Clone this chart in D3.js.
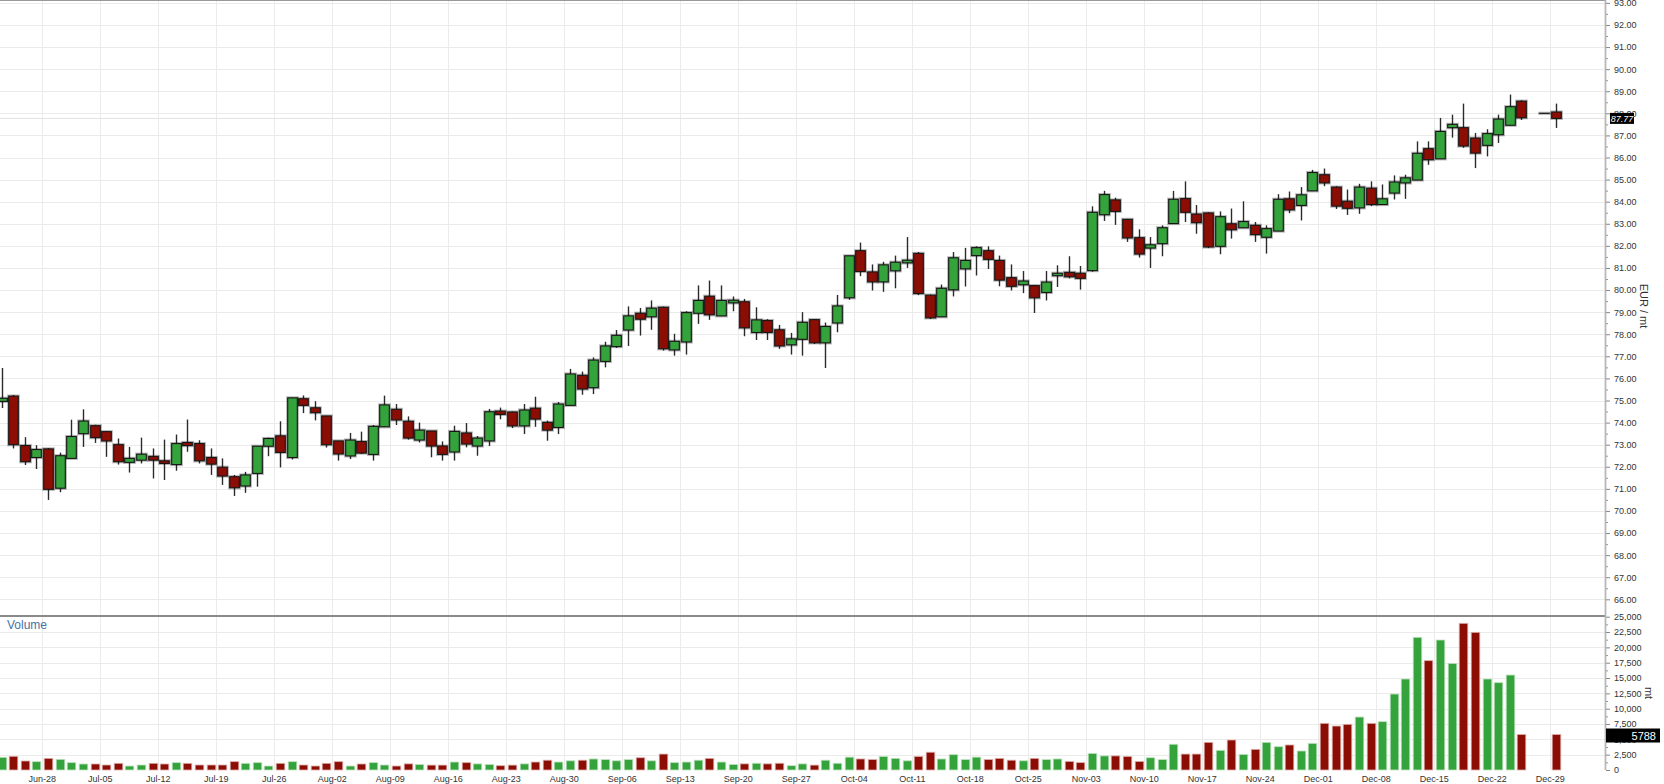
<!DOCTYPE html>
<html><head><meta charset="utf-8">
<script src="https://cdn.jsdelivr.net/npm/d3@7"></script>
<style>
body{margin:0;background:#fff;}
svg{display:block;font-family:"Liberation Sans",Arial,sans-serif;}
</style>
</head><body>
<svg id="c" width="1664" height="784"></svg>
<script>
// trading-day slots (slot 132 has no data)
const dayIndex = d3.range(0, 132).concat([133, 134]);
const opens = [74.96,75.20,72.96,72.42,72.81,71.03,72.38,73.50,73.86,73.59,73.00,72.20,72.30,72.47,72.27,72.10,73.10,73.05,72.42,71.98,
71.55,71.13,71.70,72.93,73.40,72.42,75.08,74.67,74.30,73.17,72.49,73.14,72.56,73.81,74.60,74.06,73.21,73.62,72.94,72.67,
73.53,72.94,73.17,74.52,74.48,73.85,74.65,74.01,73.78,74.78,76.14,75.58,76.77,77.44,78.19,78.95,78.79,79.22,77.29,77.65,
78.95,79.72,78.83,79.42,79.47,78.08,78.62,78.20,77.52,77.77,78.66,77.61,78.51,79.65,81.78,80.82,80.37,80.87,81.23,81.66,
79.77,78.79,80.01,80.96,81.56,81.78,81.34,80.56,80.24,80.20,79.89,80.65,80.80,80.76,80.88,83.41,84.08,83.20,82.37,81.90,
82.10,83.01,84.14,83.44,83.49,81.98,83.00,82.82,82.93,82.39,82.67,84.13,83.83,84.49,85.22,84.66,84.02,83.72,84.61,83.87,
84.39,84.85,84.98,86.40,85.94,87.35,87.35,86.88,86.55,87.03,87.46,88.55,88.00,88.06];
const highs = [76.47,75.25,73.34,72.98,72.85,72.64,74.13,74.60,73.90,73.62,73.28,72.90,73.32,72.83,73.23,73.46,74.14,73.20,72.83,72.38,
71.63,71.77,72.93,73.32,74.06,75.12,75.23,74.97,74.30,73.17,73.53,73.59,73.89,75.22,74.84,74.28,74.00,73.62,73.15,73.86,
73.98,73.39,74.62,74.68,74.50,74.84,75.17,74.09,74.93,76.43,76.31,76.95,77.66,78.19,79.26,79.19,79.53,79.25,78.02,79.04,
80.21,80.43,80.21,79.71,79.60,79.22,78.68,78.42,78.06,79.00,78.69,78.53,79.78,81.55,82.15,81.16,81.28,81.56,82.40,81.72,
79.80,80.25,81.72,81.91,81.98,81.98,81.56,81.16,80.86,80.22,80.86,81.12,81.53,81.09,83.79,84.49,84.18,83.22,82.75,82.40,
82.93,84.49,84.92,83.85,83.52,83.56,83.69,84.02,83.08,82.93,84.34,84.46,84.66,85.44,85.50,84.70,84.55,84.81,84.92,84.78,
85.19,85.22,86.73,86.73,87.79,87.94,88.44,87.11,87.28,87.94,88.85,88.59,88.00,88.44];
const lows = [74.66,72.83,72.08,71.90,70.50,70.85,72.38,72.90,73.08,72.45,72.10,71.74,72.15,71.47,71.40,71.82,72.68,72.15,71.63,71.18,
70.68,70.82,71.10,72.48,71.97,72.33,74.43,74.10,72.87,72.28,72.35,72.58,72.28,73.81,73.89,73.23,73.10,72.43,72.28,72.28,
72.88,72.50,72.94,74.15,73.75,73.48,73.81,73.18,73.48,74.78,75.26,75.29,76.50,77.38,77.47,77.94,78.20,77.26,77.03,77.08,
78.47,78.65,78.83,79.04,77.91,77.74,77.74,77.34,77.08,77.03,77.56,76.47,78.09,79.56,80.63,79.98,79.92,80.08,81.00,79.77,
78.69,78.79,79.71,80.16,80.66,80.95,80.17,79.98,79.86,78.96,79.53,80.14,80.53,80.02,80.83,83.13,82.95,82.18,81.47,81.00,
81.53,83.01,83.08,82.55,81.90,81.62,82.33,82.82,82.18,81.65,82.67,83.48,83.15,84.49,84.70,83.67,83.40,83.45,83.80,83.87,
84.10,84.13,84.98,85.67,85.94,86.90,86.44,85.52,86.05,86.66,87.46,87.70,88.00,87.34];
const closes = [75.10,73.00,72.23,72.78,70.98,72.50,73.37,74.07,73.32,73.17,72.23,72.38,72.57,72.30,72.15,73.05,72.96,72.27,72.12,71.58,
71.05,71.63,72.93,73.28,72.65,75.12,74.78,74.45,73.00,72.58,73.21,72.62,73.83,74.80,74.12,73.30,73.66,72.94,72.56,73.60,
73.03,73.30,74.49,74.37,73.85,74.57,74.16,73.66,74.84,76.20,75.52,76.83,77.47,77.95,78.83,78.68,79.18,77.34,77.68,78.98,
79.53,78.88,79.53,79.54,78.29,78.65,78.08,77.47,77.79,78.54,77.61,78.35,79.28,81.55,80.84,80.37,81.14,81.26,81.35,79.84,
78.74,80.08,81.46,81.34,81.92,81.39,80.45,80.17,80.41,79.65,80.36,80.76,80.60,80.53,83.52,84.32,83.56,82.36,81.63,82.05,
82.82,84.11,83.52,83.05,81.95,83.32,82.73,83.10,82.51,82.78,84.11,83.63,84.31,85.32,84.85,83.80,83.70,84.66,83.87,84.13,
84.89,85.08,86.19,85.90,87.18,87.50,86.52,86.20,87.08,87.74,88.30,87.80,88.00,87.77];
const volumes = [2070,2230,1470,1360,1900,1740,1200,980,980,815,1090,650,815,1090,980,1200,1090,815,815,815,
1360,1090,1200,650,1090,1360,815,650,1090,1360,650,980,1200,815,650,1000,900,800,800,1300,
1200,1000,900,700,800,1000,1300,1600,1300,1500,1600,1800,1700,1500,1700,2000,1500,2600,1200,1300,
1600,1900,1300,900,1000,1100,1000,1100,700,1000,800,1600,1100,2100,1800,1700,2200,1900,1500,2200,
2900,1800,2500,1700,2100,1700,1900,1600,1500,1900,1700,1800,1400,1200,2700,2300,2300,2200,1400,2000,
1700,4200,2600,2600,4510,3210,4890,2550,3370,4510,3800,4080,3100,4350,7610,7170,7450,8640,7610,7880,
12390,14840,21640,17830,21200,17390,23920,22450,14840,14240,15490,5800,0,5788];
const dateLabels = ["Jun-28","Jul-05","Jul-12","Jul-19","Jul-26","Aug-02","Aug-09","Aug-16","Aug-23","Aug-30",
"Sep-06","Sep-13","Sep-20","Sep-27","Oct-04","Oct-11","Oct-18","Oct-25","Nov-03","Nov-10","Nov-17","Nov-24",
"Dec-01","Dec-08","Dec-15","Dec-22","Dec-29"];
const priceTicks = d3.range(66, 94);
const volumeTicks = d3.range(0, 25001, 2500);
const lastPrice = 87.77;
const lastVolume = 5788;

const GREEN = "#35a33b", RED = "#8c0d04";
const svg = d3.select("#c");
const W = 1605;
const x = d3.scaleLinear().domain([0, 134]).range([1.7, 1556.1]);
const yP = d3.scaleLinear().domain([65.245, 93.13]).range([616, 0]);
const yV = d3.scaleLinear().domain([0, 25000]).range([770, 616.7]);

const data = dayIndex.map((d, i) => ({i: d, o: opens[i], h: highs[i], l: lows[i], c: closes[i], v: volumes[i]}));

svg.append("defs").append("clipPath").attr("id", "clipP")
  .append("rect").attr("x", 0).attr("y", 0).attr("width", W).attr("height", 616);

// grid
const grid = svg.append("g").attr("stroke", "#ebebeb").attr("stroke-width", 1);
priceTicks.forEach(p => grid.append("line").attr("x1", 0).attr("x2", W)
  .attr("y1", Math.round(yP(p)) + 0.5).attr("y2", Math.round(yP(p)) + 0.5));
volumeTicks.slice(1, -1).forEach(v => grid.append("line").attr("x1", 0).attr("x2", W)
  .attr("y1", Math.round(yV(v)) + 0.5).attr("y2", Math.round(yV(v)) + 0.5));
dateLabels.forEach((d, k) => {
  const xx = Math.round(x(3.5 + 5 * k)) + 0.5;
  grid.append("line").attr("x1", xx).attr("x2", xx).attr("y1", 0).attr("y2", 770);
});
// last price line
svg.append("line").attr("x1", 0).attr("x2", W)
  .attr("y1", Math.round(yP(lastPrice)) + 0.5).attr("y2", Math.round(yP(lastPrice)) + 0.5)
  .attr("stroke", "#e2e2e2");

// top border and separator
svg.append("line").attr("x1", 0).attr("x2", W).attr("y1", 0.5).attr("y2", 0.5).attr("stroke", "#999");
svg.append("line").attr("x1", 0).attr("x2", W).attr("y1", 616).attr("y2", 616).attr("stroke", "#8a8a8a").attr("stroke-width", 2);

// candles
const cg = svg.append("g").attr("clip-path", "url(#clipP)");
const bw = 9.6;
const cand = cg.selectAll("g.c").data(data).join("g").attr("class", "c");
cand.append("line")
  .attr("x1", d => Math.round(x(d.i)) + 0.5).attr("x2", d => Math.round(x(d.i)) + 0.5)
  .attr("y1", d => yP(d.h)).attr("y2", d => yP(d.l))
  .attr("stroke", "#2a2a2a").attr("stroke-width", 1.4);
cand.append("rect")
  .attr("x", d => Math.round(x(d.i)) + 0.5 - bw / 2)
  .attr("y", d => yP(Math.max(d.o, d.c)))
  .attr("width", bw)
  .attr("height", d => Math.max(0.01, yP(Math.min(d.o, d.c)) - yP(Math.max(d.o, d.c))))
  .attr("fill", "none").attr("stroke", "rgba(0,0,0,0.28)").attr("stroke-width", 3.2);
cand.append("rect")
  .attr("x", d => Math.round(x(d.i)) + 0.5 - bw / 2)
  .attr("y", d => yP(Math.max(d.o, d.c)))
  .attr("width", bw)
  .attr("height", d => Math.max(0.01, yP(Math.min(d.o, d.c)) - yP(Math.max(d.o, d.c))))
  .attr("fill", d => d.c >= d.o ? GREEN : RED)
  .attr("stroke", "#151515").attr("stroke-width", 1.1);

// volume bars
svg.append("g").selectAll("rect").data(data.filter(d => d.v > 0)).join("rect")
  .attr("x", d => Math.round(x(d.i)) + 0.5 - 4.3)
  .attr("y", d => yV(d.v))
  .attr("width", 8.6)
  .attr("height", d => yV(0) - yV(d.v))
  .attr("fill", d => d.c >= d.o ? GREEN : RED)
  .attr("stroke", d => d.c >= d.o ? "#bfe3c0" : "#dcb0ad").attr("stroke-width", 0.8);

// right axis line
svg.append("line").attr("x1", W + 0.5).attr("x2", W + 0.5).attr("y1", 0).attr("y2", 770)
  .attr("stroke", "#b8b8b8").attr("stroke-width", 1.8);

// price axis
const pa = svg.append("g").attr("transform", `translate(${W + 1},0)`)
  .call(d3.axisRight(yP).tickValues(priceTicks).tickFormat(d3.format(".2f")).tickSize(4).tickPadding(4));
pa.select(".domain").remove();
pa.selectAll(".tick line").attr("stroke", "#888");
pa.selectAll(".tick text").attr("fill", "#333").style("font-size", "9px").style("font-family", "'Liberation Sans',Arial,sans-serif");
const pm = svg.append("g").attr("transform", `translate(${W + 1},0)`)
  .call(d3.axisRight(yP).tickValues(priceTicks.map(p => p + 0.5).filter(p => p < 93)).tickFormat("").tickSize(2));
pm.select(".domain").remove();
pm.selectAll(".tick line").attr("stroke", "#999");

// volume axis
const va = svg.append("g").attr("transform", `translate(${W + 1},0)`)
  .call(d3.axisRight(yV).tickValues(volumeTicks).tickFormat(d3.format(",")).tickSize(4).tickPadding(4));
va.select(".domain").remove();
va.selectAll(".tick line").attr("stroke", "#888");
va.selectAll(".tick text").attr("fill", "#333").style("font-size", "9px").style("font-family", "'Liberation Sans',Arial,sans-serif");
const vm = svg.append("g").attr("transform", `translate(${W + 1},0)`)
  .call(d3.axisRight(yV).tickValues(volumeTicks.slice(0, -1).map(v => v + 1250)).tickFormat("").tickSize(2));
vm.select(".domain").remove();
vm.selectAll(".tick line").attr("stroke", "#999");

// last price box
const lpY = yP(lastPrice);
svg.append("rect").attr("x", 1610).attr("y", lpY - 5.5).attr("width", 24).attr("height", 11).attr("fill", "#000");
svg.append("text").attr("x", 1622).attr("y", lpY + 3.3).attr("text-anchor", "middle")
  .attr("fill", "#fff").style("font-size", "9px").style("font-style", "italic").text(lastPrice.toFixed(2));

// last volume box
const lvY = yV(lastVolume) + 1;
svg.append("rect").attr("x", 1606).attr("y", lvY - 7).attr("width", 54).attr("height", 14).attr("fill", "#000");
svg.append("text").attr("x", 1656).attr("y", lvY + 4).attr("text-anchor", "end")
  .attr("fill", "#fff").style("font-size", "11px").text(lastVolume);

// axis titles
svg.append("text").attr("transform", `translate(1640,306) rotate(90)`).attr("text-anchor", "middle")
  .attr("fill", "#333").style("font-size", "11px").text("EUR / mt");
svg.append("text").attr("transform", `translate(1645,693) rotate(90)`).attr("text-anchor", "middle")
  .attr("fill", "#333").style("font-size", "11px").text("mt");
svg.append("text").attr("x", 7).attr("y", 629).attr("fill", "#4572a7").style("font-size", "12px").text("Volume");

// date labels
svg.append("g").selectAll("text").data(dateLabels).join("text")
  .attr("x", (d, k) => x(3.5 + 5 * k)).attr("y", 782).attr("text-anchor", "middle")
  .attr("fill", "#333").style("font-size", "9px").text(d => d);
</script>
</body></html>
